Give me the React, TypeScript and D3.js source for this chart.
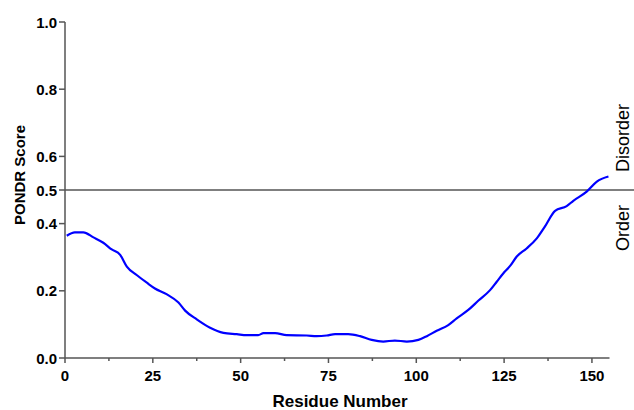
import React, { useRef, useEffect } from "react";
import * as d3 from "d3";

// PONDR prediction
const residues = [
  0.5, 2.8, 5.2, 8.1, 10.9, 13.3, 15.7, 17.6, 20.4, 23.3, 25.6, 28.9, 32.3,
  34.2, 37.5, 41.3, 45.1, 48.9, 51.7, 55, 56.5, 59.8, 63.1, 68.8, 71.6, 74.5,
  76.9, 80.6, 84, 87.3, 90.6, 93.9, 97.3, 100.6, 103, 105.8, 109.1, 111.5,
  114.8, 117.7, 121, 122.9, 124.8, 126.7, 128.6, 131.4, 134.3, 136.6, 139.5,
  142.8, 144.7, 148.5, 151.4, 154.7,
];
const scores = [
  0.364, 0.374, 0.374, 0.359, 0.343, 0.323, 0.307, 0.272, 0.247, 0.224, 0.207,
  0.19, 0.165, 0.141, 0.115, 0.09, 0.075, 0.071, 0.068, 0.068, 0.074, 0.074,
  0.068, 0.067, 0.065, 0.067, 0.071, 0.071, 0.065, 0.054, 0.049, 0.052, 0.049,
  0.054, 0.065, 0.081, 0.098, 0.118, 0.143, 0.171, 0.202, 0.227, 0.252, 0.274,
  0.302, 0.326, 0.356, 0.391, 0.438, 0.452, 0.468, 0.495, 0.525, 0.54,
];
const xTicks = [0, 25, 50, 75, 100, 125, 150];
const xMinorTicks = [12.5, 37.5, 62.5, 87.5, 112.5, 137.5];
const yTicks = [0, 0.2, 0.4, 0.5, 0.6, 0.8, 1.0];
const threshold = 0.5;

export default function App() {
  const svgRef = useRef<SVGSVGElement>(null);

  useEffect(() => {
    const svg = d3.select(svgRef.current);
    svg.selectAll("*").remove();
    const width = 634;
    const left = 65,
      right = 609.5,
      top = 22,
      bottom = 358;
    const font = "Liberation Sans, Arial, sans-serif";
    const axisColor = "#555";

    const x = d3.scaleLinear().domain([0, 155]).range([left, right]);
    const y = d3.scaleLinear().domain([0, 1]).range([bottom, top]);

    // threshold line
    svg
      .append("line")
      .attr("x1", left)
      .attr("x2", width)
      .attr("y1", y(threshold))
      .attr("y2", y(threshold))
      .attr("stroke", axisColor)
      .attr("stroke-width", 1.5);

    // x axis
    const gx = svg.append("g").attr("transform", `translate(0,${bottom})`);
    gx.append("line")
      .attr("x1", left)
      .attr("x2", right)
      .attr("stroke", axisColor)
      .attr("stroke-width", 1.5);
    gx.selectAll(".major")
      .data(xTicks)
      .join("line")
      .attr("x1", (d) => x(d))
      .attr("x2", (d) => x(d))
      .attr("y2", 5)
      .attr("stroke", axisColor)
      .attr("stroke-width", 1.5);
    gx.selectAll(".minor")
      .data(xMinorTicks)
      .join("line")
      .attr("x1", (d) => x(d))
      .attr("x2", (d) => x(d))
      .attr("y2", 3)
      .attr("stroke", axisColor)
      .attr("stroke-width", 1.5);
    gx.selectAll("text")
      .data(xTicks)
      .join("text")
      .attr("x", (d) => x(d))
      .attr("y", 23)
      .attr("text-anchor", "middle")
      .attr("font-family", font)
      .attr("font-weight", "bold")
      .attr("font-size", 15)
      .text((d) => d);

    // y axis
    const gy = svg.append("g").attr("transform", `translate(${left},0)`);
    gy.append("line")
      .attr("y1", top)
      .attr("y2", bottom)
      .attr("stroke", axisColor)
      .attr("stroke-width", 1.5);
    gy.selectAll("line.tick")
      .data(yTicks)
      .join("line")
      .attr("class", "tick")
      .attr("x2", -6)
      .attr("y1", (d) => y(d))
      .attr("y2", (d) => y(d))
      .attr("stroke", axisColor)
      .attr("stroke-width", 1.5);
    gy.selectAll("text")
      .data(yTicks)
      .join("text")
      .attr("x", -8)
      .attr("y", (d) => y(d) + 5.5)
      .attr("text-anchor", "end")
      .attr("font-family", font)
      .attr("font-weight", "bold")
      .attr("font-size", 15)
      .text((d) => d.toFixed(1));

    // curve
    const line = d3
      .line<number>()
      .x((d) => x(d))
      .y((_, i) => y(scores[i]))
      .curve(d3.curveMonotoneX);
    svg
      .append("path")
      .datum(residues)
      .attr("fill", "none")
      .attr("stroke", "#0000ff")
      .attr("stroke-width", 2.2)
      .attr("d", line);

    // titles
    svg
      .append("text")
      .attr("x", 340)
      .attr("y", 407)
      .attr("text-anchor", "middle")
      .attr("font-family", font)
      .attr("font-weight", "bold")
      .attr("font-size", 17)
      .text("Residue Number");
    svg
      .append("text")
      .attr("transform", `translate(25,175) rotate(-90)`)
      .attr("text-anchor", "middle")
      .attr("font-family", font)
      .attr("font-weight", "bold")
      .attr("font-size", 15)
      .text("PONDR Score");
    svg
      .append("text")
      .attr("transform", `translate(629,${y(threshold) - 18}) rotate(-90)`)
      .attr("text-anchor", "start")
      .attr("font-family", font)
      .attr("font-size", 18)
      .text("Disorder");
    svg
      .append("text")
      .attr("transform", `translate(629,${y(threshold) + 15}) rotate(-90)`)
      .attr("text-anchor", "end")
      .attr("font-family", font)
      .attr("font-size", 18)
      .text("Order");
  }, []);

  return (
    <svg
      ref={svgRef}
      width={634}
      height={410}
      style={{ position: "absolute", left: 0, top: 0, background: "#fff" }}
    ></svg>
  );
}
